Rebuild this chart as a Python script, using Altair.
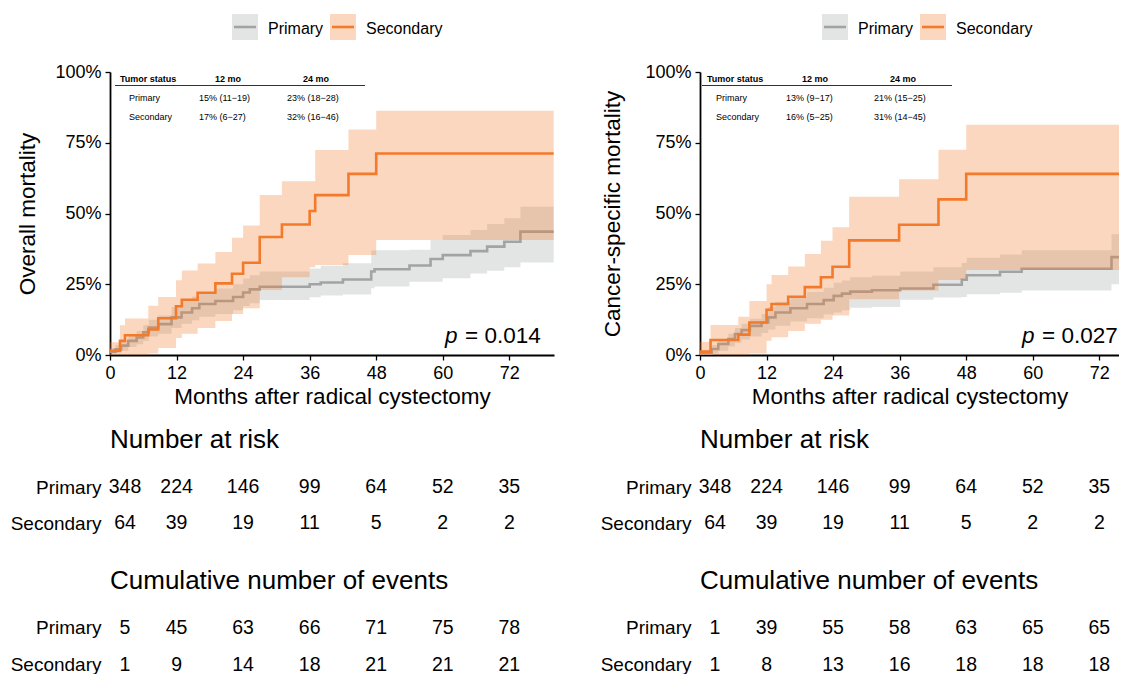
import altair as alt
import pandas as pd

FONT = "Liberation Sans"
ORANGE = "#F37A2B"
GRAY_LINE = "#A3A3A3"
GRAY_FILL = "#A2A9A9"
BAND_OPACITY = 0.3

# ---------------- data ----------------
table_times = [0, 12, 24, 36, 48, 60, 72]
group_names = ["Primary", "Secondary"]

# Overall mortality (left panel)
om_sec_t = [0, 1.8, 2.7, 6.9, 8.7, 11.9, 12.95, 15.8, 19.0, 22.0, 24.0, 27.0, 31.0, 36.0, 37.0, 43.0, 48.0, 80]
om_sec_est = [1.5, 5.0, 7.0, 9.0, 13.0, 17.2, 19.5, 22.0, 25.3, 28.7, 32.6, 41.7, 46.1, 50.9, 56.5, 64.0, 71.2, 71.2]
om_sec_lo = [0, 0, 0, 0.5, 2.5, 6.0, 7.5, 9.5, 12.0, 14.5, 16.5, 23.0, 27.5, 31.0, 31.8, 35.3, 40.6, 40.6]
om_sec_hi = [4.5, 10.5, 12.9, 17.4, 20.5, 26.4, 29.9, 32.3, 36.4, 41.4, 45.8, 56.5, 61.4, 61.4, 72.4, 79.7, 86.3, 86.3]

om_pri_t = [0, 1.0, 2.0, 3.3, 4.8, 6.0, 7.0, 8.7, 11.1, 12.9, 14.8, 16.1, 19.0, 22.2, 24.0, 25.2, 27.0,
            36.0, 38.0, 42.0, 47.1, 47.7, 54.0, 57.8, 60.0, 65.0, 68.0, 71.1, 74.0, 80]
om_pri_est = [1.2, 2.0, 3.3, 5.0, 6.2, 8.0, 9.7, 10.9, 13.3, 15.0, 16.5, 18.0, 19.1, 20.5, 22.1, 23.2, 24.1,
              25.0, 25.6, 26.7, 29.5, 30.3, 31.6, 33.9, 35.3, 36.7, 38.3, 40.0, 43.6, 43.6]
om_pri_lo = [0.2, 0.6, 1.5, 2.8, 3.8, 5.0, 6.5, 7.5, 9.5, 11.0, 12.3, 13.5, 14.5, 15.8, 17.3, 18.3, 19.4,
             20.4, 21.0, 21.4, 23.6, 24.2, 25.9, 25.9, 27.1, 28.8, 29.8, 31.0, 32.7, 32.7]
om_pri_hi = [2.5, 3.5, 5.0, 7.0, 8.5, 10.5, 12.5, 14.0, 17.0, 19.0, 20.7, 22.3, 23.5, 25.0, 27.0, 28.2, 29.5,
             30.6, 31.5, 32.4, 36.9, 37.0, 37.2, 40.6, 42.4, 44.2, 46.3, 48.3, 52.4, 52.4]

# Cancer-specific mortality (right panel)
cs_sec_t = [0, 1.9, 6.9, 8.9, 12.0, 12.9, 15.9, 18.9, 21.8, 23.9, 26.9, 35.9, 43.0, 48.0, 80]
cs_sec_est = [1.2, 5.3, 7.2, 11.5, 16.0, 18.0, 20.6, 24.0, 27.5, 31.2, 40.5, 46.0, 55.0, 64.0, 64.0]
cs_sec_lo = [0, 0, 0, 0.5, 5.0, 6.3, 8.5, 11.0, 12.5, 14.0, 19.7, 22.8, 26.5, 30.0, 30.0]
cs_sec_hi = [4.7, 10.6, 13.5, 19.1, 25.0, 28.3, 31.3, 35.7, 40.4, 45.1, 55.9, 62.1, 72.5, 81.4, 81.4]

cs_pri_t = [0, 2.1, 3.3, 5.1, 6.3, 7.5, 9.0, 11.1, 12.3, 13.6, 16.3, 19.3, 22.3, 24.1, 25.6, 27.1, 31.0,
            36.1, 42.1, 47.2, 48.1, 54.1, 58.0, 74.2, 80]
cs_pri_est = [0.3, 2.1, 3.9, 5.6, 7.4, 8.8, 10.3, 11.5, 13.3, 15.0, 16.5, 18.0, 19.4, 20.9, 21.7, 22.4, 22.9,
              23.5, 24.8, 26.6, 28.2, 29.4, 30.5, 34.6, 34.6]
cs_pri_lo = [0, 0.5, 1.5, 3.0, 4.3, 5.5, 6.5, 7.8, 9.0, 10.3, 11.8, 13.0, 14.3, 15.0, 15.8, 16.7, 17.0,
             19.5, 20.3, 20.5, 21.5, 22.0, 22.8, 25.0, 25.0]
cs_pri_hi = [1.0, 3.5, 5.5, 7.5, 9.5, 11.0, 12.8, 14.5, 17.0, 18.8, 20.5, 22.3, 23.8, 25.5, 26.3, 27.5, 28.0,
             29.5, 31.0, 32.5, 34.4, 35.5, 37.0, 42.7, 42.7]

# risk tables
risk_primary = [348, 224, 146, 99, 64, 52, 35]
risk_secondary = [64, 39, 19, 11, 5, 2, 2]
om_events_primary = [5, 45, 63, 66, 71, 75, 78]
om_events_secondary = [1, 9, 14, 18, 21, 21, 21]
cs_events_primary = [1, 39, 55, 58, 63, 65, 65]
cs_events_secondary = [1, 8, 13, 16, 18, 18, 18]

# inset tables
inset_header = ["Tumor status", "12 mo", "24 mo"]
om_inset = [["15% (11\u221219)", "23% (18\u221228)"], ["17% (6\u221227)", "32% (16\u221246)"]]
cs_inset = [["13% (9\u221217)", "21% (15\u221225)"], ["16% (5\u221225)", "31% (14\u221245)"]]

om_p = "0.014"
cs_p = "0.027"

one = pd.DataFrame({"k": [0]})


def curve(t, est, lo, hi):
    return pd.DataFrame({"t": t, "est": est, "lo": lo, "hi": hi})


def txt(text, x, y, size, align="left", baseline="middle", weight="normal", style="normal", clip=False):
    return alt.Chart(one).mark_text(
        text=text, align=align, baseline=baseline, fontSize=size, fontWeight=weight,
        fontStyle=style, color="black", clip=clip, font=FONT
    ).encode(x=alt.value(x), y=alt.value(y))


def km_plot(prim, sec, xmax, width, ytitle, ytitle_pad, pval, inset_vals, idx, p_shift):
    xs = alt.Scale(domain=[0, xmax], nice=False, zero=False)
    ys = alt.Scale(domain=[0, 100], nice=False, zero=False)
    xaxis = alt.Axis(values=table_times, labelFontSize=18, labelColor="black", tickColor="black",
                     tickSize=5, tickWidth=1.3, domainColor="black", domainWidth=1.8, labelPadding=4,
                     titleFontSize=22.5, titleFontWeight="normal", titleColor="black", titlePadding=3,
                     grid=False, labelFlush=False, labelOverlap=False)
    yaxis = alt.Axis(values=[0, 25, 50, 75, 100], labelExpr="datum.value + '%'", labelFontSize=18,
                     labelColor="black", tickColor="black", tickSize=5, tickWidth=1.3, domainColor="black",
                     domainWidth=1.8, labelPadding=4, titleFontSize=22.5, titleFontWeight="normal",
                     titleColor="black", titlePadding=ytitle_pad, grid=False, labelFlush=False,
                     labelOverlap=False)
    X = alt.X("t:Q", scale=xs, axis=xaxis, title="Months after radical cystectomy")

    def band(df, color):
        return alt.Chart(df).mark_area(interpolate="step-after", color=color, opacity=BAND_OPACITY,
                                       clip=True).encode(
            x=X, y=alt.Y("lo:Q", scale=ys, axis=yaxis, title=ytitle), y2="hi:Q")

    def line(df, color):
        return alt.Chart(df).mark_line(interpolate="step-after", color=color, strokeWidth=2.6,
                                       clip=True).encode(
            x=X, y=alt.Y("est:Q", scale=ys, axis=yaxis, title=ytitle))

    layers = [band(prim, GRAY_FILL), line(prim, GRAY_LINE), band(sec, ORANGE), line(sec, ORANGE)]

    # legend (drawn above plot area)
    for fill, stroke, x0, name, tx in [(GRAY_FILL, GRAY_LINE, 122, group_names[0], 158),
                                       (ORANGE, ORANGE, 220, group_names[1], 256)]:
        layers.append(alt.Chart(one).mark_rect(color=fill, opacity=BAND_OPACITY).encode(
            x=alt.value(x0), x2=alt.value(x0 + 26), y=alt.value(-58), y2=alt.value(-32)))
        layers.append(alt.Chart(one).mark_rule(color=stroke, strokeWidth=2.6).encode(
            x=alt.value(x0 + 2), x2=alt.value(x0 + 24), y=alt.value(-45)))
        layers.append(txt(name, tx, -43, 16))

    # inset table
    d = idx
    layers.append(txt(inset_header[0], 10 + d, 6.5, 9, weight="bold"))
    layers.append(txt(inset_header[1], 118 + d, 6.5, 9, align="center", weight="bold"))
    layers.append(txt(inset_header[2], 206 + d, 6.5, 9, align="center", weight="bold"))
    layers.append(alt.Chart(one).mark_rule(color="#333333", strokeWidth=1).encode(
        x=alt.value(5 + d), x2=alt.value(255 + d), y=alt.value(13.5)))
    for r, (gname, vals) in enumerate(zip(group_names, inset_vals)):
        yy = 26 + r * 19
        layers.append(txt(gname, 19 + d, yy, 9))
        layers.append(txt(vals[0], 89 + d, yy, 9))
        layers.append(txt(vals[1], 177 + d, yy, 9))

    # p-value
    layers.append(txt("p", 335 + p_shift, 271, 22.5, baseline="alphabetic", style="italic", clip=True))
    layers.append(txt("= " + pval, 355 + p_shift, 271, 22.5, baseline="alphabetic", clip=True))

    return alt.layer(*layers).properties(width=width, height=283)


def table(title, prim_counts, sec_counts, xmax, width, height, d0, d1, title_y):
    df = pd.DataFrame({"t": table_times * 2, "n": prim_counts + sec_counts, "row": [1] * 7 + [2] * 7})
    xs = alt.Scale(domain=[0, xmax], nice=False, zero=False)
    ys = alt.Scale(domain=[d0, d1], reverse=True, nice=False, zero=False)
    yaxis = alt.Axis(values=[1, 2], labelExpr="datum.value == 1 ? 'Primary' : 'Secondary'",
                     domain=False, ticks=False, tickSize=0, grid=False, labelPadding=9,
                     labelFontSize=19, labelColor="black", labelFont=FONT, title=None)
    enc = dict(x=alt.X("t:Q", scale=xs, axis=None), y=alt.Y("row:Q", scale=ys, axis=yaxis), text="n:Q")
    first = alt.Chart(df).transform_filter("datum.t == 0").mark_text(
        dx=15, fontSize=19.5, color="black", font=FONT).encode(**enc)
    rest = alt.Chart(df).transform_filter("datum.t > 0").mark_text(
        fontSize=19.5, color="black", font=FONT).encode(**enc)
    return alt.layer(first, rest, txt(title, 0, title_y, 26)).properties(width=width, height=height)


PX_PER_MONTH = 5.546
L_W = 444
R_W = 419
L_XMAX = L_W / PX_PER_MONTH
R_XMAX = R_W / PX_PER_MONTH

left_plot = km_plot(curve(om_pri_t, om_pri_est, om_pri_lo, om_pri_hi),
                    curve(om_sec_t, om_sec_est, om_sec_lo, om_sec_hi),
                    L_XMAX, L_W, "Overall mortality", 15, om_p, om_inset, 0, 0)
right_plot = km_plot(curve(cs_pri_t, cs_pri_est, cs_pri_lo, cs_pri_hi),
                     curve(cs_sec_t, cs_sec_est, cs_sec_lo, cs_sec_hi),
                     R_XMAX, R_W, "Cancer-specific mortality", 20, cs_p, cs_inset, -3, -13)

RISK_H, EV_H = 185, 134
risk_d0 = 1 - 132 / 36
risk_d1 = risk_d0 + RISK_H / 36
ev_d0 = 1 - 87.5 / 37
ev_d1 = ev_d0 + EV_H / 37

left_risk = table("Number at risk", risk_primary, risk_secondary, L_XMAX, L_W, RISK_H, risk_d0, risk_d1, 84.5)
right_risk = table("Number at risk", risk_primary, risk_secondary, R_XMAX, R_W, RISK_H, risk_d0, risk_d1, 84.5)
left_ev = table("Cumulative number of events", om_events_primary, om_events_secondary, L_XMAX, L_W, EV_H,
                ev_d0, ev_d1, 40.5)
right_ev = table("Cumulative number of events", cs_events_primary, cs_events_secondary, R_XMAX, R_W, EV_H,
                 ev_d0, ev_d1, 40.5)

chart = alt.concat(
    left_plot, right_plot, left_risk, right_risk, left_ev, right_ev,
    columns=2, align="each", bounds="flush", spacing={"row": 0, "column": 146}
).properties(
    padding={"left": 2, "top": 6, "right": 0, "bottom": 0}
).configure(font=FONT).configure_view(stroke=None)

chart.save("out.html", embed_options={"renderer": "svg", "actions": False})
